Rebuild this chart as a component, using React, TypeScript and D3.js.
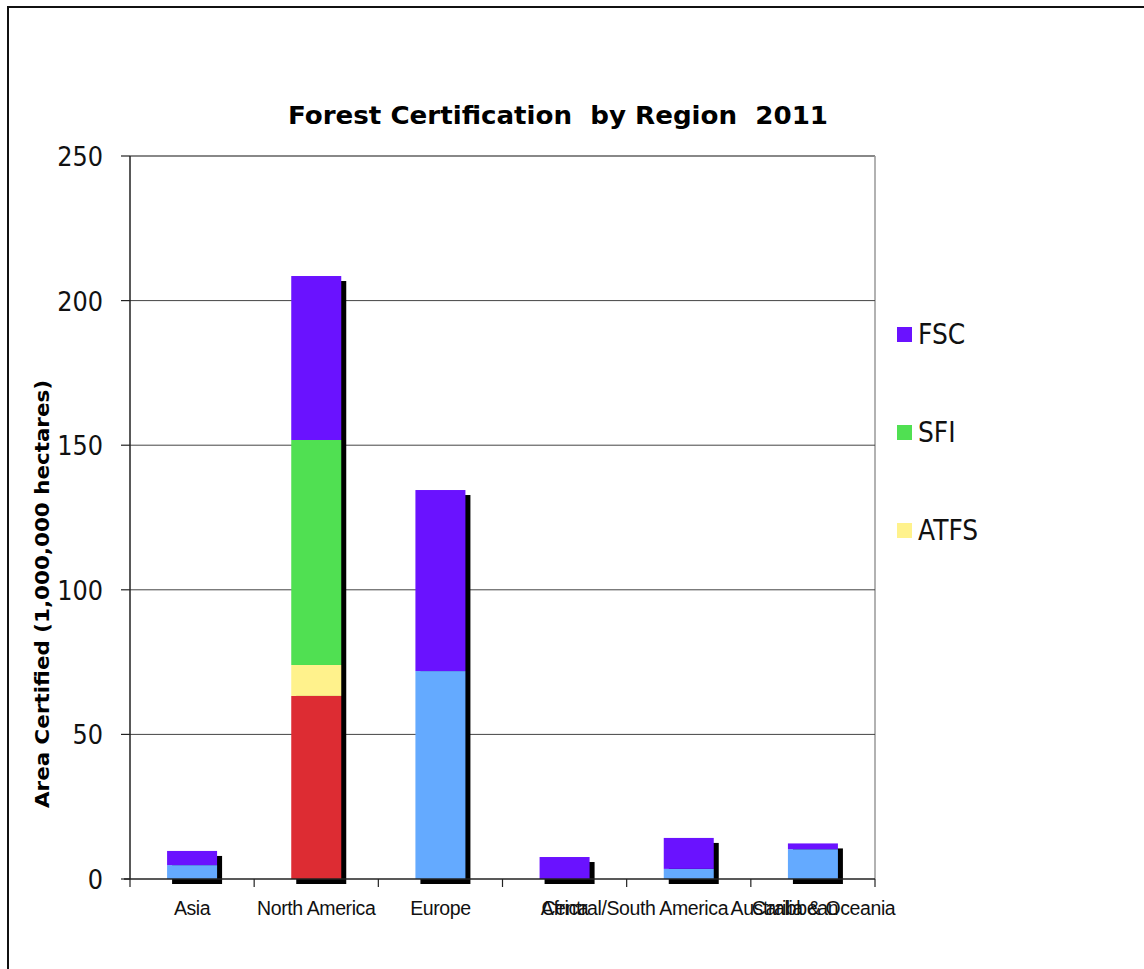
import * as d3 from 'd3';

// categories along the x axis (6 slots, the reference overlaps some labels)
const categories = ['Asia', 'North America', 'Europe', 'Africa', 'Central/South America', 'Australia & Oceania'];
const extraLabel = 'Caribbean';

// series values, million hectares
const CSA = [0, 63.3, 0, 0, 0, 0];
const PEFC = [4.8, 0, 71.9, 0, 3.5, 10.3];
const ATFS = [0, 10.7, 0, 0, 0, 0];
const SFI = [0, 77.8, 0, 0, 0, 0];
const FSC = [4.9, 56.7, 62.6, 7.6, 10.7, 2.0];

const seriesKeys = ['CSA', 'PEFC', 'ATFS', 'SFI', 'FSC'];
const legendKeys = ['FSC', 'SFI', 'ATFS'];
const yTicks = [0, 50, 100, 150, 200, 250];

const colors: Record<string, string> = {
  CSA: '#dd2c33',
  PEFC: '#64aaff',
  ATFS: '#fff28c',
  SFI: '#50e052',
  FSC: '#6a12ff',
};

type Row = { cat: string; [k: string]: any };

const rows: Row[] = categories.map((c, i) => ({
  cat: c,
  CSA: CSA[i],
  PEFC: PEFC[i],
  ATFS: ATFS[i],
  SFI: SFI[i],
  FSC: FSC[i],
}));

const App = () => {
  const left = 130, right = 875, top = 156, bottom = 879;

  const x = d3.scaleBand<string>().domain(categories).range([left, right]).padding(0);
  const y = d3.scaleLinear().domain([0, 250]).range([bottom, top]);

  const stacked = d3.stack<Row>().keys(seriesKeys)(rows);
  const barW = 50;
  const totals = rows.map(r => d3.sum(seriesKeys, k => r[k] as number));

  // label nudges to mimic how the original chart's labels collided
  const labelShift: Record<number, number> = { 4: -54, 5: 0 };

  const sans = 'DejaVu Sans, Verdana, sans-serif';
  const arial = 'Liberation Sans, Arial, sans-serif';

  return (
    <svg width={1144} height={969} style={{ position: 'absolute', left: 0, top: 0, background: '#fff' }}>
      {/* outer frame */}
      <path d="M8,969 L8,7 L1144,7" fill="none" stroke="#111" strokeWidth={2} />

      {/* title */}
      <text x={558} y={124} textAnchor="middle" fontFamily={sans} fontWeight="bold" fontSize={25}
        textLength={540} lengthAdjust="spacingAndGlyphs" style={{ whiteSpace: 'pre' }} fill="#000">
        {'Forest Certification  by Region  2011'}
      </text>

      {/* plot frame: top and right in gray */}
      <line x1={left} x2={right} y1={y(250)} y2={y(250)} stroke="#888" strokeWidth={2} />
      <line x1={right} x2={right} y1={top} y2={bottom} stroke="#999" strokeWidth={1.5} />

      {/* gridlines */}
      {yTicks.filter(t => t > 0 && t < 250).map(t => (
        <line key={t} x1={left} x2={right} y1={y(t)} y2={y(t)} stroke="#444" strokeWidth={1} />
      ))}

      {/* y axis */}
      <line x1={left} x2={left} y1={top} y2={bottom} stroke="#222" strokeWidth={1.5} />
      {yTicks.map(t => (
        <g key={t}>
          <line x1={left - 9} x2={left} y1={y(t)} y2={y(t)} stroke="#222" strokeWidth={1.2} />
          <text x={103} y={y(t) + 9} textAnchor="end" fontFamily={sans} fontSize={24} fill="#111"
            transform={`translate(0 ${y(t)}) scale(1 1.12) translate(0 ${-y(t)})`}>
            {t}
          </text>
        </g>
      ))}

      {/* y axis title */}
      <text transform={`translate(49 594) rotate(-90)`} textAnchor="middle" fontFamily={sans}
        fontWeight="bold" fontSize={19} textLength={428} lengthAdjust="spacingAndGlyphs" fill="#000">
        Area Certified (1,000,000 hectares)
      </text>

      {/* shadows */}
      {rows.map((r, i) => {
        const cx = (x(r.cat) as number) + x.bandwidth() / 2;
        return (
          <rect key={'s' + i} x={cx - barW / 2 + 5} y={y(totals[i]) + 5} width={barW}
            height={bottom - y(totals[i])} fill="#000" />
        );
      })}

      {/* stacked bars */}
      {stacked.map(s => (
        <g key={s.key} fill={colors[s.key]}>
          {s.map((d, i) => {
            if (d[1] - d[0] <= 0) return null;
            const cx = (x(categories[i]) as number) + x.bandwidth() / 2;
            return (
              <rect key={i} x={cx - barW / 2} y={y(d[1])} width={barW} height={y(d[0]) - y(d[1])} />
            );
          })}
        </g>
      ))}

      {/* x axis */}
      <line x1={left - 6} x2={right} y1={bottom} y2={bottom} stroke="#222" strokeWidth={1.5} />
      {d3.range(categories.length + 1).map(i => {
        const xx = left + i * x.bandwidth();
        return <line key={i} x1={xx} x2={xx} y1={bottom} y2={bottom + 8} stroke="#222" strokeWidth={1.2} />;
      })}
      {categories.map((c, i) => {
        const cx = (x(c) as number) + x.bandwidth() / 2 + (labelShift[i] || 0);
        return (
          <text key={c} x={cx} y={915} textAnchor="middle" fontFamily={arial} fontSize={19.5}
            letterSpacing={-0.4} fill="#111">
            {c}
          </text>
        );
      })}
      <text x={(x(categories[5]) as number) + x.bandwidth() / 2 - 18} y={915} textAnchor="middle"
        fontFamily={arial} fontSize={19.5} letterSpacing={-0.4} fill="#111">
        {extraLabel}
      </text>

      {/* legend */}
      {legendKeys.map((k, i) => {
        const ly = 334 + i * 98;
        return (
          <g key={k}>
            <rect x={897} y={ly - 7} width={15} height={15} fill={colors[k]} />
            <text x={918} y={ly + 9} fontFamily={sans} fontSize={25} fill="#111"
              transform={`translate(0 ${ly}) scale(1 1.1) translate(0 ${-ly})`}>
              {k}
            </text>
          </g>
        );
      })}
    </svg>
  );
};

export default App;
